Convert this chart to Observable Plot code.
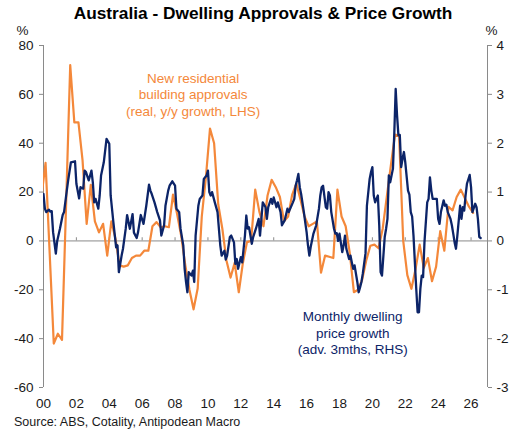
<!DOCTYPE html>
<html>
<head>
<meta charset="utf-8">
<script src="https://cdn.jsdelivr.net/npm/d3@7"></script>
<script src="https://cdn.jsdelivr.net/npm/@observablehq/plot@0.6"></script>
<style>
  body { margin: 0; background: #fff; font-family: "Liberation Sans", Arial, sans-serif; }
  #chart { width: 526px; height: 435px; }
  .title { height: 21px; padding-top: 3px; line-height: 20px; text-align: center;
           font-weight: bold; font-size: 17.3px; color: #000; }
  .source { font-size: 12.5px; color: #1a1a1a; padding-left: 14px; line-height: 20px; }
</style>
</head>
<body>
<div id="chart">
  <div class="title">Australia - Dwelling Approvals &amp; Price Growth</div>
  <div id="plot"></div>
  <div class="source">Source: ABS, Cotality, Antipodean Macro</div>
</div>
<script>
// New residential building approvals, real, y/y % (quarterly, from 1999 Q4) — LHS
const approvalsFirstQuarter = "1999-Q4";
const approvalsGrowth = [
  18,
  32, -5, -42, -38,          // 2000
  -40.5, 15, 72, 48.5,       // 2001
  48.5, 33, 7, 23,           // 2002
  8, 3.5, 7, -6,             // 2003
  8, 1, -10, -10.5,          // 2004
  -10, -7, -6, -6,           // 2005
  -4, -4, 6, 7.7,            // 2006
  5.6, 6, 5.6, 19,           // 2007
  11, 2, -10, -20,           // 2008
  -28, -19.5, 10, 26,        // 2009
  46, 40, 15, 5,             // 2010
  -8, -15, -9, -21,          // 2011
  -9, -0.5, 0, 21,           // 2012
  12, 6, 18.6, 25,           // 2013
  22, 18, 8, 10,             // 2014
  19, 23.5, 17, 10,          // 2015
  6, 7, 8, -13,              // 2016
  -6, -6.5, -7, 21,          // 2017
  10, 6, -5, -21,            // 2018
  -20, -16, -8, -2,          // 2019
  -1.5, -3, 5, 18,           // 2020
  31, 43.5, 43, 0,           // 2021
  -14, -19.6, -11.5, -1.5,   // 2022
  -11, -7, -16.5, -10.5,     // 2023
  4, -4, 14, 12.5,           // 2024
  18, 21, 17.5, 14,          // 2025
  11.5                       // 2026
];

// Monthly dwelling price growth, % m/m, advanced 3 months — RHS
const priceMonth = [
  "2000-01","2000-02","2000-03","2000-05","2000-06","2000-07","2000-08","2000-10","2000-11",
  "2001-01","2001-03","2001-04","2001-06","2001-07","2001-09","2001-12",
  "2002-01","2002-03","2002-04","2002-06","2002-07","2002-08","2002-10","2002-12",
  "2003-01","2003-02","2003-03","2003-05","2003-06","2003-07","2003-09","2003-11",
  "2004-01","2004-02","2004-04","2004-06","2004-07","2004-08","2004-10","2004-11",
  "2005-01","2005-02","2005-04","2005-06","2005-07","2005-09","2005-10","2005-12",
  "2006-02","2006-04","2006-06","2006-07","2006-08","2006-10","2006-12",
  "2007-02","2007-03","2007-05","2007-06","2007-08","2007-09","2007-11",
  "2008-01","2008-02","2008-04","2008-05","2008-07","2008-08","2008-09","2008-10","2008-11",
  "2009-01","2009-02","2009-03","2009-04","2009-06","2009-07","2009-09","2009-10","2009-12",
  "2010-01","2010-02","2010-03","2010-04","2010-06","2010-08","2010-10","2010-11",
  "2011-01","2011-02","2011-03","2011-05","2011-06","2011-08","2011-09","2011-10","2011-11",
  "2012-01","2012-02","2012-04","2012-05","2012-06","2012-07","2012-09","2012-10","2012-12",
  "2013-02","2013-03","2013-05","2013-07","2013-08","2013-09","2013-11","2013-12",
  "2014-01","2014-03","2014-04","2014-06","2014-07","2014-09","2014-11","2014-12",
  "2015-01","2015-03","2015-04","2015-05","2015-06","2015-07","2015-08","2015-09","2015-11","2015-12",
  "2016-01","2016-02","2016-03","2016-04","2016-06","2016-08","2016-10","2016-11","2016-12",
  "2017-01","2017-03","2017-04","2017-05","2017-06","2017-07","2017-09","2017-10","2017-11","2017-12",
  "2018-01","2018-03","2018-04","2018-05","2018-06","2018-08","2018-09","2018-10","2018-11","2018-12",
  "2019-02","2019-03","2019-04","2019-05","2019-06","2019-08","2019-09","2019-11","2019-12",
  "2020-01","2020-02","2020-03","2020-05","2020-06","2020-07","2020-08","2020-10","2020-11","2020-12",
  "2021-01","2021-02","2021-04","2021-05","2021-06","2021-07","2021-08","2021-09","2021-10","2021-11","2021-12",
  "2022-01","2022-03","2022-04","2022-05","2022-06","2022-07","2022-08","2022-09","2022-10","2022-11","2022-12",
  "2023-01","2023-02","2023-03","2023-05","2023-06","2023-07","2023-08","2023-09","2023-11","2023-12",
  "2024-01","2024-02","2024-03","2024-05","2024-06","2024-07","2024-08","2024-10","2024-11","2024-12",
  "2025-01","2025-02","2025-03","2025-05","2025-06","2025-07","2025-08","2025-09","2025-10","2025-12",
  "2026-01","2026-02","2026-04","2026-05","2026-06","2026-07","2026-08"
];
const priceGrowth = [
  0.96,0.66,0.59,0.64,0.60,0.61,0.18,-0.26,0.00,
  0.25,0.53,0.59,1.03,1.24,1.61,1.63,
  1.17,0.87,1.10,1.07,1.44,1.41,1.24,1.44,
  1.20,0.79,0.86,0.66,0.93,1.34,1.61,2.09,
  1.99,0.93,0.38,-0.13,-0.09,-0.64,-0.30,-0.16,
  0.25,0.53,0.25,0.55,0.17,0.06,0.18,0.53,
  0.35,0.72,1.15,1.03,0.96,0.79,0.59,
  0.42,0.11,0.32,0.72,1.03,1.13,1.22,
  1.13,0.66,0.59,0.25,-0.09,-0.57,-0.84,-1.05,-0.64,
  -0.71,-0.61,-0.84,0.11,0.72,0.86,0.93,1.27,1.34,
  1.44,1.00,0.93,1.00,0.79,0.59,-0.09,-0.30,
  -0.20,-0.38,-0.30,0.08,0.11,-0.03,-0.47,-0.37,-0.57,
  -0.33,-0.44,0.11,0.52,0.25,0.28,-0.06,0.08,0.25,
  0.45,0.11,0.79,0.69,0.45,0.69,0.86,0.76,
  0.89,0.69,0.79,0.59,0.32,0.42,0.66,0.59,
  0.66,0.79,0.86,1.13,1.24,1.37,1.10,0.96,0.59,0.38,
  0.18,-0.09,-0.30,-0.12,0.15,0.32,0.66,0.93,1.10,
  1.13,0.69,0.66,1.00,0.93,0.59,0.25,0.15,0.16,0.00,
  0.15,-0.23,-0.09,0.11,-0.16,-0.37,-0.30,-0.44,-0.57,-0.50,
  -0.84,-1.05,-0.95,-0.84,-0.67,-0.25,0.72,1.27,1.41,
  1.51,0.93,0.79,0.93,0.32,-0.64,-0.71,0.08,0.25,0.45,
  1.34,1.20,1.48,2.22,3.11,2.57,2.16,2.17,1.51,1.68,1.82,
  1.61,1.03,0.95,0.59,0.50,0.11,-0.44,-0.98,-1.46,-1.46,-0.98,
  -0.71,-0.74,-0.03,0.79,0.86,1.30,1.03,0.86,0.86,0.86,
  0.45,0.35,0.59,0.83,0.72,0.74,0.59,0.45,0.32,0.15,
  -0.03,-0.16,0.11,0.72,0.45,0.69,0.62,0.93,1.17,1.35,
  1.10,0.59,0.76,0.69,0.45,0.08,0.06
];

// Axis ticks
const leftTicks = [-60, -40, -20, 0, 20, 40, 60, 80];
const yearTicks = d3.range(2000, 2027, 2);
const yearLabels = yearTicks.map(y => String(y % 100).padStart(2, "0"));

// RHS is drawn against the LHS scale: 1 pp of price growth = 20 pp of approvals
const ratio = 20;

const orange = "#f4883a";
const navy = "#0c2468";
const axisGray = "#8a8a8a";
const ink = "#1a1a1a";

// Quarterly points sit mid-quarter; monthly points at the start of the month
const [fy, fq] = approvalsFirstQuarter.split("-Q").map(Number);
const approvals = approvalsGrowth.map((v, i) => {
  const q = fq - 1 + i;
  return {t: fy + Math.floor(q / 4) + (q % 4) / 4 + 0.125, v};
});
const prices = priceMonth.map((m, i) => {
  const [y, mo] = m.split("-").map(Number);
  return {t: y + (mo - 1) / 12, v: priceGrowth[i]};
});

const fmt = d => String(d);

const chart = Plot.plot({
  width: 526,
  height: 388,
  marginTop: 21,
  marginBottom: 25,
  marginLeft: 43,
  marginRight: 39,
  style: {fontFamily: "'Liberation Sans', Arial, sans-serif", fontSize: "13.5px", color: ink, background: "#fff"},
  x: {domain: [2000, 2027]},
  y: {domain: [-60, 80]},
  marks: [
    // zero line with small year ticks
    Plot.ruleY([0], {stroke: axisGray, strokeWidth: 1}),
    Plot.ruleX(yearTicks, {y1: 0, y2: 1.3, stroke: axisGray}),
    // axis lines
    Plot.ruleX([2000], {stroke: axisGray}),
    Plot.ruleX([2027], {stroke: axisGray}),
    Plot.axisY({anchor: "left", ticks: leftTicks, tickFormat: fmt, tickSize: 4, tickPadding: 6,
                label: null, stroke: axisGray, fill: ink}),
    Plot.axisY({anchor: "right", ticks: leftTicks, tickFormat: d => fmt(d / ratio), tickSize: 4, tickPadding: 5,
                label: null, stroke: axisGray, fill: ink}),
    Plot.axisX({anchor: "bottom", ticks: yearTicks, tickFormat: d => yearLabels[yearTicks.indexOf(d)],
                tickSize: 0, tickPadding: 11, label: null, fill: ink}),
    // series
    Plot.lineY(approvals, {x: "t", y: "v", stroke: orange, strokeWidth: 2.2, clip: true}),
    Plot.lineY(prices, {x: "t", y: d => d.v * ratio, stroke: navy, strokeWidth: 2.3, clip: true}),
    // series labels
    Plot.text(["New residential\nbuilding approvals\n(real, y/y growth, LHS)"],
      {x: 2009.1, y: 60.2, text: d => d, fill: orange, fontSize: 13.5, lineHeight: 1.22,
       textAnchor: "middle", lineAnchor: "middle"}),
    Plot.text(["Monthly dwelling\nprice growth\n(adv. 3mths, RHS)"],
      {x: 2018.8, y: -37.5, text: d => d, fill: navy, fontSize: 13.5, lineHeight: 1.22,
       textAnchor: "middle", lineAnchor: "middle"}),
    // unit labels above the axes
    Plot.text(["%"], {frameAnchor: "top-left", text: d => d, dx: -21, dy: -15,
       textAnchor: "middle", lineAnchor: "middle", fill: ink}),
    Plot.text(["%"], {frameAnchor: "top-right", text: d => d, dx: 4, dy: -15,
       textAnchor: "middle", lineAnchor: "middle", fill: ink})
  ]
});

document.getElementById("plot").appendChild(chart);
</script>
</body>
</html>
